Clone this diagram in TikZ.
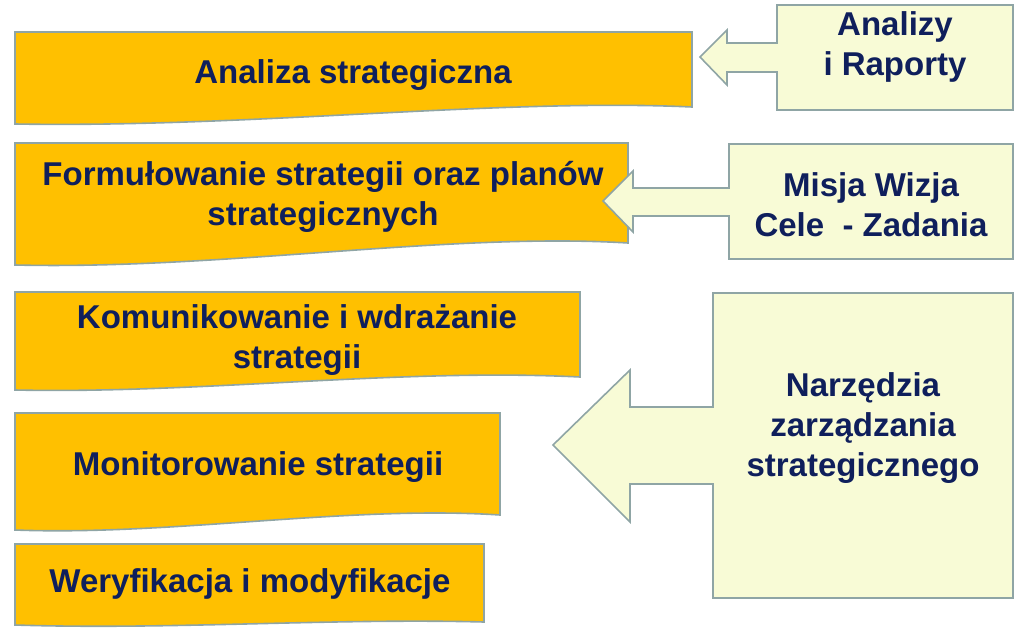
\documentclass[tikz,border=0pt]{standalone}
\usepackage{fontspec}
\setmainfont{Liberation Sans}
\definecolor{orangefill}{HTML}{FFC000}
\definecolor{edgegray}{HTML}{8FA5A5}
\definecolor{callfill}{HTML}{F8FBD6}
\definecolor{navy}{HTML}{0F1F5C}
\tikzset{
  docbox/.style={fill=orangefill, draw=edgegray, line width=1.6pt},
  callbox/.style={fill=callfill, draw=edgegray, line width=1.6pt, line join=miter},
  lbl/.style={text=navy, font=\bfseries\fontsize{33}{40}\selectfont, align=center}
}
\begin{document}
\begin{tikzpicture}[x=1pt,y=-1pt]
				\useasboundingbox (0,0) rectangle (1024,634);
				% orange document boxes
				\draw[docbox] (15,32) -- (692,32) -- (692,107) .. controls (500,98) and (250,128) .. (15,124) -- cycle;
				\draw[docbox] (15,143) -- (628,143) -- (628,243) .. controls (450,232) and (220,270) .. (15,265) -- cycle;
				\draw[docbox] (15,292) -- (580,292) -- (580,377) .. controls (400,368) and (200,394) .. (15,390) -- cycle;
				\draw[docbox] (15,413) -- (500,413) -- (500,515) .. controls (350,505) and (170,536) .. (15,530) -- cycle;
				\draw[docbox] (15,544) -- (484,544) -- (484,622) .. controls (330,618) and (170,630) .. (15,625) -- cycle;
				\node[lbl] (analiza) at (353,75) {Analiza strategiczna};
				\node[lbl] (formul) at (323,197) {Formułowanie strategii oraz planów\\strategicznych};
				\node[lbl] (komun) at (297,340) {Komunikowanie i wdrażanie\\strategii};
				\node[lbl] (monit) at (258,467) {Monitorowanie strategii};
				\node[lbl] (weryf) at (250,584) {Weryfikacja i modyfikacje};
				% callouts
				\draw[callbox] (777,5) -- (1013,5) -- (1013,110) -- (777,110) -- (777,72) -- (727,72) -- (727,85) -- (700,57)
					-- (727,30) -- (727,43) -- (777,43) -- cycle;
				\draw[callbox] (729,144) -- (1013,144) -- (1013,259) -- (729,259) -- (729,216) -- (633,216) -- (633,232) -- (603,201)
					-- (633,171) -- (633,188) -- (729,188) -- cycle;
				\draw[callbox] (713,293) -- (1013,293) -- (1013,598) -- (713,598) -- (713,484) -- (630,484) -- (630,522) -- (553,445)
					-- (630,370) -- (630,407) -- (713,407) -- cycle;
				\node[lbl] (raporty) at (895,47) {Analizy\\i Raporty};
				\node[lbl] (misja) at (871,205) {Misja Wizja\\Cele\ \ - Zadania};
				\node[lbl] (narzedzia) at (863,428) {Narzędzia\\zarządzania\\strategicznego};
\end{tikzpicture}
\end{document}
